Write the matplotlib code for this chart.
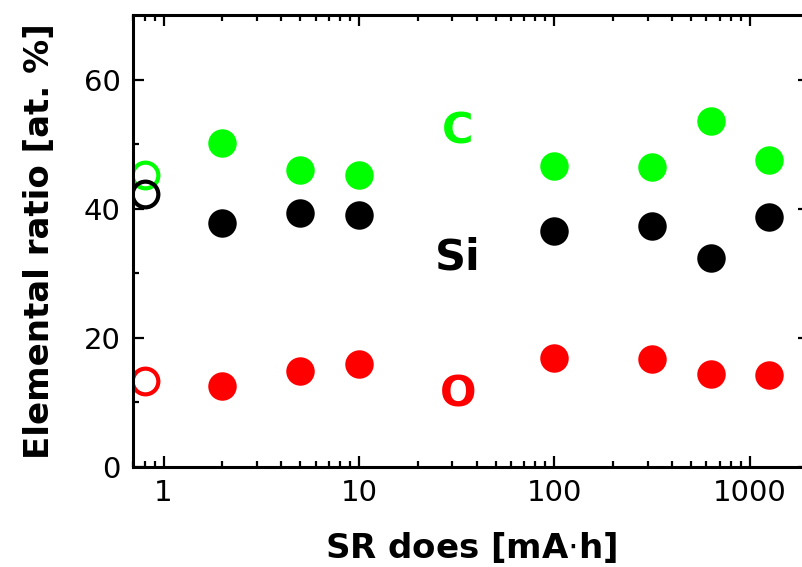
import numpy as np
import matplotlib.pyplot as plt

# SR dose [mA.h]
dose = [2, 5, 10, 100, 315, 630, 1260]
c_ratio = [50.2, 46.0, 45.3, 46.7, 46.4, 53.6, 47.6]
si_ratio = [37.8, 39.4, 39.1, 36.6, 37.4, 32.4, 38.7]
o_ratio = [12.6, 14.9, 16.0, 16.9, 16.7, 14.4, 14.2]

# reference (open symbols)
ref_dose = [0.8]
ref_c = [45.3]
ref_si = [42.3]
ref_o = [13.3]

fig = plt.figure(figsize=(8.03, 5.67), dpi=100)
ax = fig.add_axes([0.166, 0.1764, 0.841, 0.797])

ms = 20.5
ax.plot(dose, c_ratio, 'o', color='#00ff00', ms=ms, mec='none')
ax.plot(dose, si_ratio, 'o', color='black', ms=ms, mec='none')
ax.plot(dose, o_ratio, 'o', color='#ff0000', ms=ms, mec='none')

ax.plot(ref_dose, ref_c, 'o', mfc='none', mec='#00ff00', ms=18.5, mew=3)
ax.plot(ref_dose, ref_si, 'o', mfc='none', mec='black', ms=18.5, mew=3)
ax.plot(ref_dose, ref_o, 'o', mfc='none', mec='#ff0000', ms=18.5, mew=3)

ax.text(32, 52.0, 'C', color='#00ff00', fontsize=31, fontweight='bold', ha='center', va='center')
ax.text(32, 32.4, 'Si', color='black', fontsize=31, fontweight='bold', ha='center', va='center')
ax.text(32, 11.3, 'O', color='#ff0000', fontsize=31, fontweight='bold', ha='center', va='center')

ax.set_xscale('log')
ax.set_xlim(0.7, 2000)
ax.set_ylim(0, 70)
ax.set_yticks([0, 20, 40, 60])
ax.set_yticks([10, 30, 50], minor=True)
ax.set_xticks([1, 10, 100, 1000])
ax.set_xticklabels(['1', '10', '100', '1000'])

ax.tick_params(which='both', direction='in', top=True, right=True, width=1.6, labelsize=21)
ax.tick_params(which='major', length=8)
ax.tick_params(which='minor', length=4.5)
ax.tick_params(axis='y', pad=9)
ax.tick_params(axis='x', pad=9)
for s in ax.spines.values():
    s.set_linewidth(2.2)

ax.set_xlabel('SR does [mA$\\cdot$h]', fontsize=24.5, fontweight='bold', labelpad=16)
ax.set_ylabel('Elemental ratio [at. %]', fontsize=24.5, fontweight='bold', labelpad=20)

fig.savefig('out.png', dpi=100)
